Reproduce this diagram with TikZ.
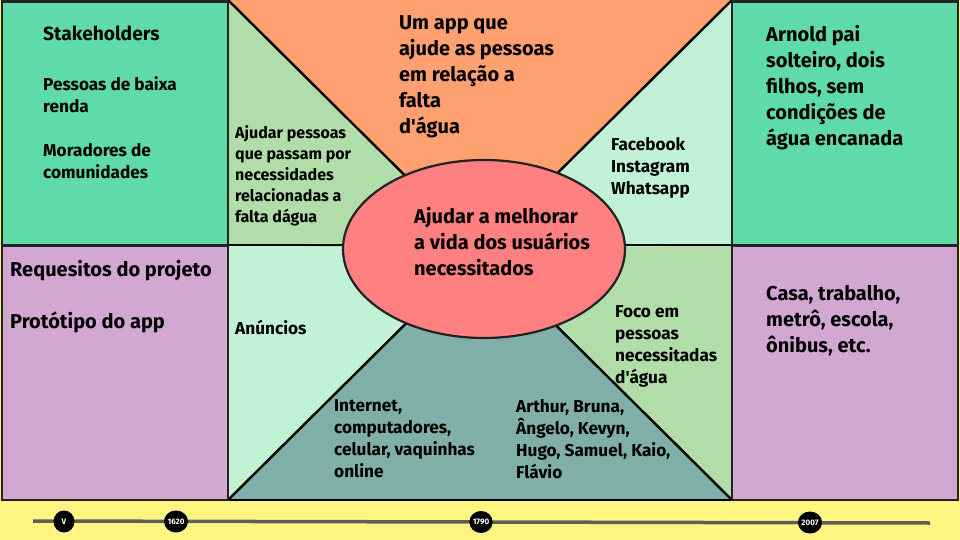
\documentclass[tikz,border=0pt]{standalone}
\usepackage{fontspec}
\setmainfont{Fira Sans}
\usetikzlibrary{positioning,shapes.geometric}
\definecolor{amarelo}{HTML}{FFF580}
\definecolor{verde}{HTML}{5FDBAA}
\definecolor{lilas}{HTML}{D2A8D2}
\definecolor{laranja}{HTML}{FFA070}
\definecolor{verdeC}{HTML}{B0DDA8}
\definecolor{menta}{HTML}{C2F2D6}
\definecolor{petroleo}{HTML}{7FAFA8}
\definecolor{salmao}{HTML}{FF8080}
\definecolor{borda}{HTML}{222222}
\definecolor{cinza}{HTML}{5E5E5E}
\tikzset{
  caixa/.style={draw=borda,line width=2.2pt},
  linha/.style={draw=black,line width=2.4pt},
  txt/.style={anchor=north west,inner sep=0pt,align=left,font=\bfseries\fontsize{17.2}{22}\selectfont},
  txtG/.style={txt,font=\bfseries\fontsize{20}{26}\selectfont},
  txtP/.style={txt,font=\bfseries\fontsize{16}{21}\selectfont},
  alvo/.style={ellipse,draw=borda,line width=2.2pt,fill=salmao,minimum width=282pt,minimum height=178pt},
  marco/.style={ellipse,fill=black,minimum width=21pt,minimum height=22pt,inner sep=0pt,text=white,font=\bfseries\fontsize{8}{8}\selectfont},
  tempo/.style={draw=cinza,line width=3.5pt},
}

\begin{document}
\begin{tikzpicture}[x=1pt,y=-1pt]
  \fill[amarelo] (0,0) rectangle (960,540);
  \useasboundingbox (0,0) rectangle (960,540);
  \coordinate (c) at (480,250); \coordinate (tl) at (228,0); \coordinate (tr) at (732,0);
  \coordinate (bl) at (228,500); \coordinate (br) at (732,500);
  \coordinate (ml) at (228,245); \coordinate (mr) at (732,245);
  % quadrantes do meio
  \fill[laranja] (tl) -- (tr) -- (c) -- cycle;
  \fill[petroleo] (bl) -- (br) -- (c) -- cycle;
  \fill[verdeC] (tl) -- (c) -- (ml) -- cycle;
  \fill[menta] (ml) -- (c) -- (bl) -- cycle;
  \fill[menta] (tr) -- (c) -- (mr) -- cycle;
  \fill[verdeC] (mr) -- (c) -- (br) -- cycle;
  \draw[linha] (ml) -- (mr);
  \draw[linha] (bl) -- (br);
  \draw[linha] (tl) -- (c) -- (tr);
  \draw[linha] (bl) -- (c) -- (br);
  % caixas laterais
  \draw[caixa,fill=verde] (2,1.5) rectangle (ml);
  \draw[caixa,fill=lilas] (2,246) rectangle (bl);
  \draw[caixa,fill=verde] (tr) ++(0,1.5) rectangle (958,245);
  \draw[caixa,fill=lilas] (mr) ++(0,1) rectangle (958,500);
  \node[alvo] (centro) at (484,249) {};
  % textos
  \node[txt] (stk) at (43,25.5) {{\fontsize{19.2}{22}\selectfont Stakeholders}\\[28.5pt]Pessoas de baixa\\renda\\[22pt]Moradores de\\comunidades};
  \node[txtG] (app) at (399,15) {Um app que\\ajude as pessoas\\em relação a\\falta\\d\textquotesingle água};
  \node[txtP] (prob) at (235,125) {Ajudar pessoas\\que passam por\\necessidades\\relacionadas a\\falta dágua};
  \node[txt] (redes) at (611,137.5) {Facebook\\Instagram\\Whatsapp};
  \node[txtG] (meta) at (414,207) {Ajudar a melhorar\\a vida dos usuários\\necessitados};
  \node[txtG] (pers) at (766,25) {Arnold pai\\solteiro, dois\\filhos, sem\\condições de\\água encanada};
  \node[txtG] (req) at (10,260.5) {Requesitos do projeto\\[26pt]Protótipo do app};
  \node[txt] (anun) at (235,320) {Anúncios};
  \node[txt] (rec) at (334,399.5) {Internet,\\computadores,\\celular, vaquinhas\\online};
  \node[txt] (equipe) at (516,399.5) {Arthur, Bruna,\\Ângelo, Kevyn,\\Hugo, Samuel, Kaio,\\Flávio};
  \node[txt] (foco) at (615,305.5) {Foco em\\pessoas\\necessitadas\\d\textquotesingle água};
  \node[txtG] (lugar) at (766,285.5) {Casa, trabalho,\\metrô, escola,\\ônibus, etc.};
  % linha do tempo
  \coordinate (ini) at (33,521); \coordinate (fim) at (930,523);
  \draw[tempo] (ini) -- (fim);
  \node[marco] (m0) at (64,521.5) {V};
  \node[marco] (m1) at (176,521.5) {1620};
  \node[marco] (m2) at (481,522) {1790};
  \node[marco] (m3) at (810,522.5) {2007};
\end{tikzpicture}
\end{document}
